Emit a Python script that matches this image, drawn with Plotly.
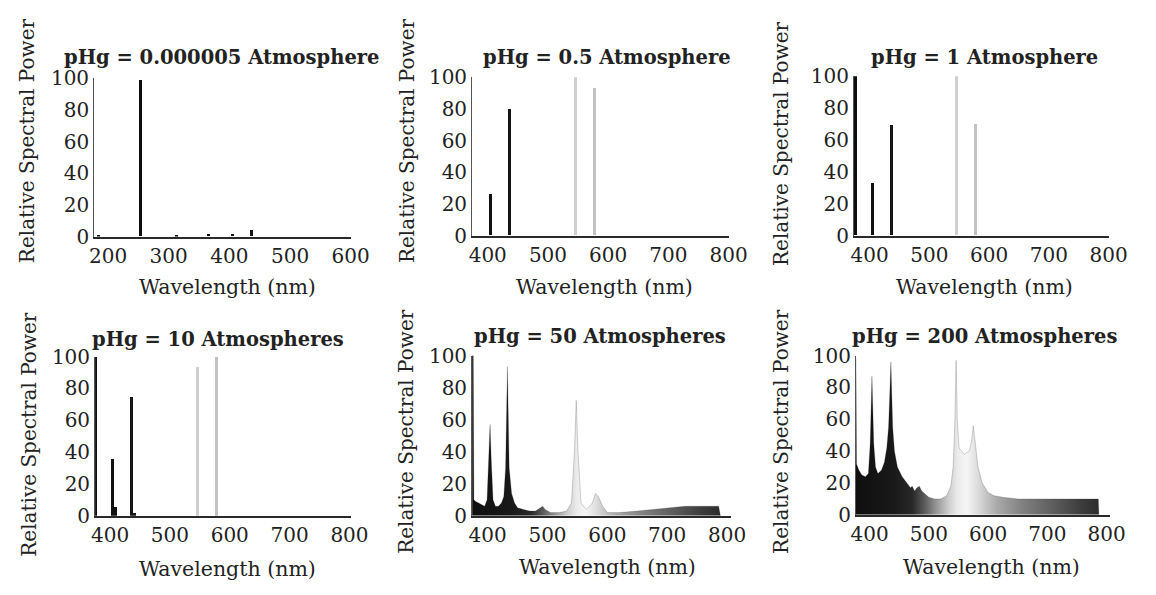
import plotly.graph_objects as go

W, H = 1156, 595

# ---------------- data ----------------
titles = ["pHg = 0.000005 Atmosphere", "pHg = 0.5 Atmosphere", "pHg = 1 Atmosphere",
          "pHg = 10 Atmospheres", "pHg = 50 Atmospheres", "pHg = 200 Atmospheres"]
x_title = "Wavelength (nm)"
y_title = "Relative Spectral Power"
y_ticks = [0, 20, 40, 60, 80, 100]
x_ticks_uv = [200, 300, 400, 500, 600]
x_ticks_vis = [400, 500, 600, 700, 800]

# line spectra (wavelength nm, relative power)
p1_wl = [185, 254, 313, 365, 405, 436]
p1_val = [1, 99, 1, 1.5, 1.5, 4]
p2_wl = [405, 436, 546, 578]
p2_val = [26, 80, 100, 93]
p3_wl = [376, 405, 436, 546, 578]
p3_val = [100, 33, 69, 100, 70]
p4_wl = [376, 405, 410, 436, 441, 546, 578]
p4_val = [100, 36, 6, 75, 2, 94, 100]

# continuous spectra
p5_wl = [374, 376, 377, 380, 385, 390, 395, 399, 402, 404, 406, 409, 413, 418, 423, 427,
         430, 433, 436, 440, 445, 450, 460, 470, 480, 488, 492, 496, 505, 520, 532, 540,
         545, 548, 551, 556, 565, 575, 580, 585, 592, 600, 620, 650, 680, 700, 730, 760,
         786, 789]
p5_val = [100, 100, 10, 9, 8, 7, 6, 10, 35, 57, 35, 10, 6, 6, 8, 12,
          30, 93, 30, 14, 8, 5, 4, 3, 3, 5, 6, 4, 2, 2, 3, 8,
          40, 72, 40, 8, 4, 8, 14, 12, 6, 2, 2, 3, 4, 5, 6, 6,
          6, 0]
p6_wl = [375, 377, 378, 382, 387, 393, 398, 401, 404, 407, 410, 414, 420, 425, 429, 432,
         436, 439, 442, 447, 455, 463, 469, 472, 476, 480, 484, 488, 494, 500, 510, 520,
         530, 537, 541, 544, 546, 548, 551, 560, 568, 572, 575, 578, 583, 590, 600, 610,
         625, 650, 700, 750, 780, 786, 787]
p6_val = [98, 98, 32, 28, 25, 24, 26, 45, 87, 45, 30, 26, 28, 33, 42, 55,
          96, 55, 40, 30, 24, 20, 17, 18, 15, 17, 18, 15, 13, 11, 10, 10,
          12, 18, 30, 60, 97, 60, 42, 38, 40, 46, 56, 45, 30, 20, 14, 12,
          11, 10, 10, 10, 10, 10, 0]

# ---------------- styles ----------------
FONT = "DejaVu Serif"
TICK_SIZE = 20
TITLE_SIZE = 19.5
XTITLE_SIZE = 20.5
YTITLE_SIZE = 20
LINE_DARKEN = 0.88
# grayscale rendering of spectral colour (wavelength -> gray level)
gray_stops = [(180, 15), (375, 15), (440, 25), (470, 40), (490, 90), (510, 150),
              (530, 205), (545, 235), (560, 245), (575, 225), (590, 200), (610, 170),
              (650, 130), (700, 95), (750, 60), (805, 30)]


def gray_level(w):
    if w <= gray_stops[0][0]:
        return gray_stops[0][1]
    for (a, ga), (b, gb) in zip(gray_stops[:-1], gray_stops[1:]):
        if a <= w <= b:
            return ga + (gb - ga) * (w - a) / (b - a)
    return gray_stops[-1][1]


def gray(w, k=1.0):
    g = int(round(gray_level(w) * k))
    return f"rgb({g},{g},{g})"


def gradient_scale(lo, hi):
    pts = [lo] + [s[0] for s in gray_stops if lo < s[0] < hi] + [hi]
    return [[(p - lo) / (hi - lo), gray(p)] for p in pts]


# panel geometry in pixels: (x0, x1, y_top, y_bottom), x range
panels = [
    ((91, 353, 69, 234), (177, 600), x_ticks_uv),
    ((477, 739, 68, 233), (374, 800), x_ticks_vis),
    ((867, 1127, 67, 233), (374, 800), x_ticks_vis),
    ((92, 353, 359, 525), (375, 802), x_ticks_vis),
    ((477, 741, 358, 525), (374, 806), x_ticks_vis),
    ((869, 1128, 358, 524), (377, 805), x_ticks_vis),
]
title_pos = [(221, 47), (615, 47), (1000, 47), (218, 341), (608, 338), (1000, 338)]
xtitle_pos = [(227, 287), (612, 287), (1000, 287), (227, 580), (615, 578), (1007, 578)]
ytitle_pos = [(22, 134), (410, 134), (793, 137), (25, 440), (410, 437), (793, 437)]

fig = go.Figure()

line_data = [(p1_wl, p1_val), (p2_wl, p2_val), (p3_wl, p3_val), (p4_wl, p4_val)]
bar_width = [5, 5, 5, 5]
for i, (wl, val) in enumerate(line_data):
    n = i + 1
    fig.add_trace(go.Bar(
        x=wl, y=val, width=bar_width[i],
        marker=dict(color=[gray(w, LINE_DARKEN) for w in wl], line=dict(width=0)),
        xaxis=f"x{n if n > 1 else ''}", yaxis=f"y{n if n > 1 else ''}",
        showlegend=False, hoverinfo="x+y"))

for i, (wl, val) in enumerate([(p5_wl, p5_val), (p6_wl, p6_val)]):
    n = i + 5
    lo, hi = panels[n - 1][1]
    fig.add_trace(go.Scatter(
        x=wl, y=val, mode="lines", line=dict(width=0.6, color="rgba(40,40,40,0.35)"),
        fill="tozeroy",
        fillgradient=dict(type="horizontal", colorscale=gradient_scale(lo, hi),
                          start=lo, stop=hi),
        xaxis=f"x{n}", yaxis=f"y{n}", showlegend=False))

layout = dict(width=W, height=H, margin=dict(l=0, r=0, t=0, b=0),
              paper_bgcolor="white", plot_bgcolor="white",
              font=dict(family=FONT, size=TICK_SIZE, color="#222"),
              bargap=0, barmode="overlay")

annotations = []
for i, ((x0, x1, yt, yb), xr, xt) in enumerate(panels):
    n = i + 1
    s = "" if n == 1 else str(n)
    layout[f"xaxis{s}"] = dict(
        domain=[x0 / W, x1 / W], range=list(xr), anchor=f"y{s}",
        tickmode="array", tickvals=xt, ticks="", showgrid=False, zeroline=False,
        showline=True, linecolor="#2a2a2a", linewidth=2,
        tickfont=dict(family=FONT, size=TICK_SIZE, color="#222"), fixedrange=True)
    layout[f"yaxis{s}"] = dict(
        domain=[1 - yb / H, 1 - yt / H], range=[0, 100], anchor=f"x{s}",
        tickmode="array", tickvals=y_ticks, ticks="", showgrid=False, zeroline=False,
        showline=True, linecolor="#555", linewidth=1,
        tickfont=dict(family=FONT, size=TICK_SIZE, color="#222"), fixedrange=True)
    tx, ty = title_pos[i]
    annotations.append(dict(text=f"<b>{titles[i]}</b>", x=tx / W, y=1 - ty / H,
                            xref="paper", yref="paper", showarrow=False,
                            xanchor="center", yanchor="middle",
                            font=dict(family=FONT, size=TITLE_SIZE, color="#222")))
    ax, ay = xtitle_pos[i]
    annotations.append(dict(text=x_title, x=ax / W, y=1 - ay / H,
                            xref="paper", yref="paper", showarrow=False,
                            xanchor="center", yanchor="middle",
                            font=dict(family=FONT, size=XTITLE_SIZE, color="#222")))
    yx, yy = ytitle_pos[i]
    annotations.append(dict(text=y_title, x=yx / W, y=1 - yy / H, textangle=-90,
                            xref="paper", yref="paper", showarrow=False,
                            xanchor="center", yanchor="middle",
                            font=dict(family=FONT, size=YTITLE_SIZE, color="#222")))
layout["annotations"] = annotations
fig.update_layout(**layout)
fig.write_html("out.html")
